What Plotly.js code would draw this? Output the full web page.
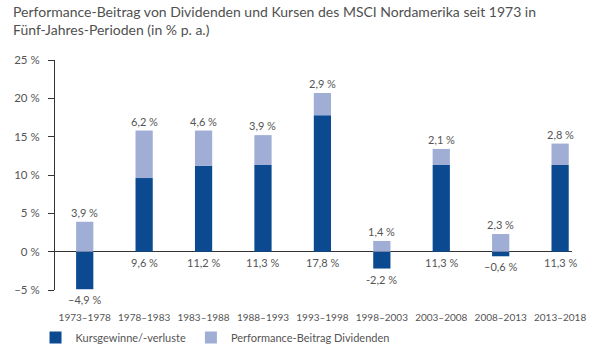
<!DOCTYPE html>
<html>
<head>
<meta charset="utf-8">
<script src="https://cdn.plot.ly/plotly-3.0.1.min.js"></script>
<style>html,body{margin:0;padding:0;background:#fff;}#chart{width:592px;height:352px;}</style>
</head>
<body>
<div id="chart"></div>
<script>
const periods = ['1973–1978','1978–1983','1983–1988','1988–1993','1993–1998','1998–2003','2003–2008','2008–2013','2013–2018'];
const priceChange = [-4.9, 9.6, 11.2, 11.3, 17.8, -2.2, 11.3, -0.6, 11.3];
const dividends = [3.9, 6.2, 4.6, 3.9, 2.9, 1.4, 2.1, 2.3, 2.8];
const priceLabels = ['–4,9 %','9,6 %','11,2 %','11,3 %','17,8 %','-2,2 %','11,3 %','–0,6 %','11,3 %'];
const dividendLabels = ['3,9 %','6,2 %','4,6 %','3,9 %','2,9 %','1,4 %','2,1 %','2,3 %','2,8 %'];
const yTickVals = [-5, 0, 5, 10, 15, 20, 25];
const yTickText = ['–5 %','0 %','5 %','10 %','15 %','20 %','25 %'];
const titleText = 'Performance-Beitrag von Dividenden und Kursen des MSCI Nordamerika seit 1973 in<br>Fünf-Jahres-Perioden (in % p. a.)';

const font = 'Lato, "Open Sans", sans-serif';
const textColor = '#555555';

const traces = [
  {type:'bar', name:'Kursgewinne/-verluste', x:periods, y:priceChange, width:0.29,
   marker:{color:'#0b4a91'}, hoverinfo:'skip'},
  {type:'bar', name:'Performance-Beitrag Dividenden', x:periods, y:dividends, width:0.29,
   marker:{color:'#a0add5'}, hoverinfo:'skip'}
];

const annotations = [];
periods.forEach((p, i) => {
  annotations.push({x:p, y:Math.max(priceChange[i],0)+dividends[i], text:dividendLabels[i],
    showarrow:false, yanchor:'bottom', yshift:1, font:{size:11, color:textColor, family:font}});
  annotations.push({x:p, y:Math.min(priceChange[i],0), text:priceLabels[i],
    showarrow:false, yanchor:'top', yshift:-2, font:{size:11, color:textColor, family:font}});
});
annotations.push({xref:'paper', yref:'paper', x:-0.085, y:1.255, xanchor:'left', yanchor:'top',
  align:'left', showarrow:false, text:titleText, font:{size:14, color:'#505050', family:font}});

const layout = {
  width:592, height:352,
  margin:{l:55, r:20, t:60, b:62},
  paper_bgcolor:'#fff', plot_bgcolor:'#fff',
  font:{family:font, color:textColor, size:11},
  barmode:'relative',
  xaxis:{type:'category', range:[-0.5, 8.2], showline:false, showgrid:false, zeroline:false,
    ticks:'', tickfont:{size:10, color:textColor}, ticklabelstandoff:20, fixedrange:true},
  yaxis:{range:[-5,25], tickvals:yTickVals, ticktext:yTickText, showline:true, linecolor:'#333',
    linewidth:1, ticks:'outside', ticklen:6, tickcolor:'#333', showgrid:false,
    zeroline:true, zerolinecolor:'#333', zerolinewidth:1, tickfont:{size:11.5, color:textColor},
    ticklabelstandoff:6, fixedrange:true},
  showlegend:true,
  legend:{orientation:'h', xref:'container', yref:'container', x:0.06, y:0.0, yanchor:'bottom',
    font:{size:11, color:textColor}, itemwidth:20, traceorder:'normal'},
  annotations:annotations
};

Plotly.newPlot('chart', traces, layout, {displayModeBar:false, staticPlot:true});
</script>
</body>
</html>
